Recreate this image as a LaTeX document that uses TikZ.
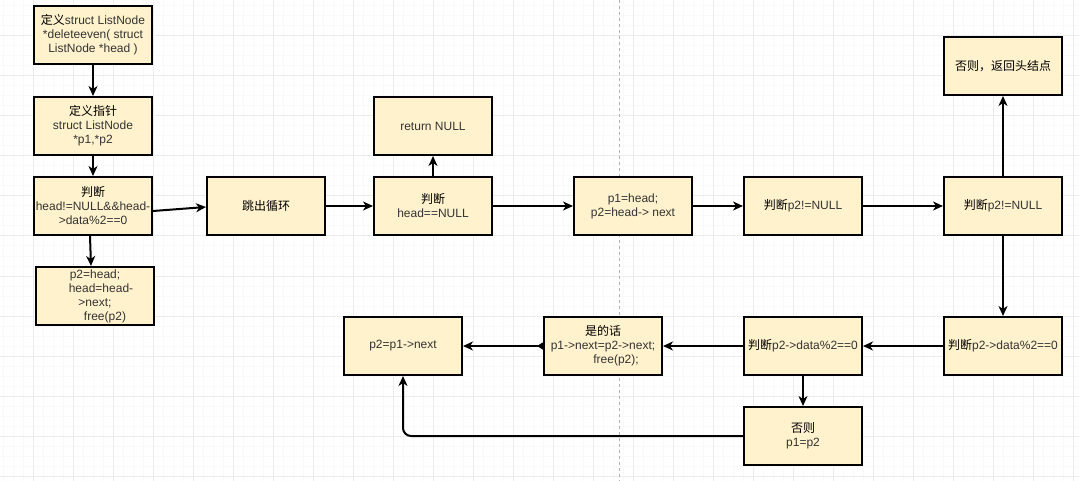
\documentclass[tikz,border=0pt]{standalone}
\usepackage{fontspec}
\setmainfont{Liberation Sans}
\newfontfamily\cjk{Noto Sans CJK SC}
\usetikzlibrary{arrows.meta}
\definecolor{boxfill}{HTML}{FFF2CC}
\definecolor{txtgray}{HTML}{333333}
\newcommand{\zh}[1]{{\cjk\color{black}#1}}
\tikzset{
	flowbox/.style={draw=black, line width=2pt, fill=boxfill, minimum width=118pt, minimum height=58pt,
		inner sep=1pt, align=center, font=\fontsize{12}{14}\selectfont, text=txtgray},
	flowarr/.style={line width=2pt, -{Stealth[length=10pt,width=9pt,inset=3pt]}}
}
\begin{document}
\begin{tikzpicture}[x=1pt,y=-1pt]

	\useasboundingbox (0,0) rectangle (1079,481);
	\fill[white] (0,0) rectangle (1079,481);

	% grid
	\foreach \i in {3,13,...,1073}{
		\draw[gray!5, line width=1pt] (\i,0) -- (\i,481);
	}
	\foreach \i in {6,16,...,476}{
		\draw[gray!5, line width=1pt] (0,\i) -- (1079,\i);
	}
	\foreach \i in {33,73,...,1073}{
		\draw[gray!15, line width=1pt] (\i,0) -- (\i,481);
	}
	\foreach \i in {-4,36,...,476}{
		\draw[gray!15, line width=1pt] (0,\i) -- (1079,\i);
	}
	\draw[gray!60, dashed, line width=0.8pt] (619,0) -- (619,481);

	% boxes
	\node[flowbox] (define) at (93,35) {\zh{定义}struct ListNode\\*deleteeven( struct\\ListNode *head )};
	\node[flowbox] (pointer) at (93,126) {\zh{定义指针}\\struct ListNode\\*p1,*p2};
	\node[flowbox] (judgehead) at (93,206) {\zh{判断}\\head!=NULL\&\&head-\\>data\%2==0};
	\node[flowbox] (freehead) at (95,296) {p2=head;\\\hspace{12pt}head=head-\\>next;\\\hspace{20pt}free(p2)};
	\node[flowbox] (breakloop) at (266,206) {\zh{跳出循环}};
	\node[flowbox] (judgenull) at (433,206) {\zh{判断}\\head==NULL};
	\node[flowbox] (retnull) at (433,126) {return NULL};
	\node[flowbox] (init) at (633,206) {p1=head;\\p2=head-> next};
	\node[flowbox] (judgeone) at (803,206) {\zh{判断}p2!=NULL};
	\node[flowbox] (judgetwo) at (1003,206) {\zh{判断}p2!=NULL};
	\node[flowbox] (rethead) at (1003,66) {\zh{否则，返回头结点}};
	\node[flowbox] (evenright) at (1003,346) {\zh{判断}p2->data\%2==0};
	\node[flowbox] (evenmid) at (803,346) {\zh{判断}p2->data\%2==0};
	\node[flowbox] (other) at (803,436) {\zh{否则}\\p1=p2};
	\node[flowbox] (yes) at (603,346) {\zh{是的话}\\p1->next=p2->next;\\\hspace{26pt}free(p2);};
	\node[flowbox] (advance) at (403,346) {p2=p1->next};

	% arrows
	\draw[flowarr] (define) -- (pointer);
	\draw[flowarr] (pointer) -- (judgehead);
	\draw[flowarr] ([xshift=-3pt]judgehead.south) -- ([xshift=-4pt]freehead.north);
	\draw[flowarr] ([yshift=-5pt]judgehead.east) -- ([yshift=-1pt]breakloop.west);
	\draw[flowarr] (breakloop) -- (judgenull);
	\draw[flowarr] (judgenull) -- (retnull);
	\draw[flowarr] (judgenull) -- (init);
	\draw[flowarr] (init) -- (judgeone);
	\draw[flowarr] (judgeone) -- (judgetwo);
	\draw[flowarr] (judgetwo) -- (rethead);
	\draw[flowarr] (judgetwo) -- (evenright);
	\draw[flowarr] (evenright) -- (evenmid);
	\draw[flowarr] (evenmid) -- (yes);
	\draw[flowarr] (evenmid) -- (other);
	\draw[line width=2pt, {Triangle[reversed,length=6pt,width=7pt]}-{Stealth[length=10pt,width=9pt,inset=3pt]}] (yes) -- (advance);
	\draw[flowarr, rounded corners=8pt] (other.west) -| (advance.south);

\end{tikzpicture}
\end{document}
